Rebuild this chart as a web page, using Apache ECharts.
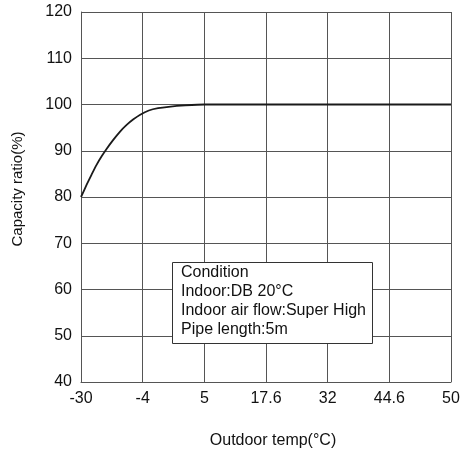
<!DOCTYPE html>
<html>
<head>
<meta charset="utf-8">
<script src="https://cdn.jsdelivr.net/npm/echarts@6/dist/echarts.min.js"></script>
<style>
  html, body { margin: 0; padding: 0; background: #fff; }
  #chart { width: 461px; height: 449px; }
</style>
</head>
<body>
<div id="chart"></div>
<script>
// x tick labels (equally spaced, not linear in temperature)
var xTicks = ['-30', '-4', '5', '17.6', '32', '44.6', '50'];
// curve position along the tick index and capacity ratio
var curveX = [0, 0.09, 0.17, 0.25, 0.34, 0.42, 0.52, 0.63, 0.74, 0.85, 0.96, 1.1, 1.25, 1.42, 1.69, 2, 3, 4, 5, 6];
var curveY = [80, 82.6, 84.8, 86.9, 88.9, 90.5, 92.3, 94.1, 95.6, 96.8, 97.8, 98.7, 99.2, 99.5, 99.8, 100, 100, 100, 100, 100];
var noteLines = ['Condition', 'Indoor:DB 20°C', 'Indoor air flow:Super High', 'Pipe length:5m'];

var font = 'Liberation Sans, Arial, sans-serif';
var gridColor = '#555';

var myChart = echarts.init(document.getElementById('chart'));

var option = {
    animation: false,
    backgroundColor: '#fff',
    grid: { left: 81, top: 12, right: 10, bottom: 67, outerBoundsMode: 'none', containLabel: false },
    xAxis: {
        type: 'value',
        min: 0,
        max: 6,
        interval: 1,
        name: 'Outdoor temp(°C)',
        nameLocation: 'middle',
        nameGap: 51,
        nameTextStyle: { fontFamily: font, fontSize: 16, color: '#111', padding: [0, 0, 0, 14] },
        axisLine: { lineStyle: { color: gridColor } },
        axisTick: { show: false },
        splitLine: { show: true, lineStyle: { color: gridColor, width: 1 } },
        axisLabel: {
            fontFamily: font, fontSize: 16, color: '#111', margin: 9,
            formatter: function (v) { return xTicks[Math.round(v)]; }
        }
    },
    yAxis: {
        type: 'value',
        min: 40,
        max: 120,
        interval: 10,
        name: 'Capacity ratio(%)',
        nameLocation: 'middle',
        nameGap: 56,
        nameTextStyle: { fontFamily: font, fontSize: 15, color: '#111', padding: [0, 0, 0, 16] },
        axisLine: { show: true, lineStyle: { color: gridColor } },
        axisTick: { show: false },
        splitLine: { show: true, lineStyle: { color: gridColor, width: 1 } },
        axisLabel: { fontFamily: font, fontSize: 16, color: '#111', margin: 9 }
    },
    series: [{
        type: 'line',
        smooth: 0.25,
        showSymbol: false,
        lineStyle: { color: '#1a1a1a', width: 1.8 },
        data: curveX.map(function (x, i) { return [x, curveY[i]]; })
    }],
    graphic: [{
        type: 'rect',
        left: 172,
        top: 262,
        z: 100,
        shape: { x: 0, y: 0, width: 200, height: 81 },
        style: { fill: '#fff', stroke: '#333', lineWidth: 1 }
    }, {
        type: 'text',
        left: 181,
        top: 263,
        z: 101,
        style: {
            text: noteLines.join('\n'),
            font: '16px ' + font,
            fill: '#111',
            lineHeight: 19
        }
    }]
};

myChart.setOption(option);
</script>
</body>
</html>
